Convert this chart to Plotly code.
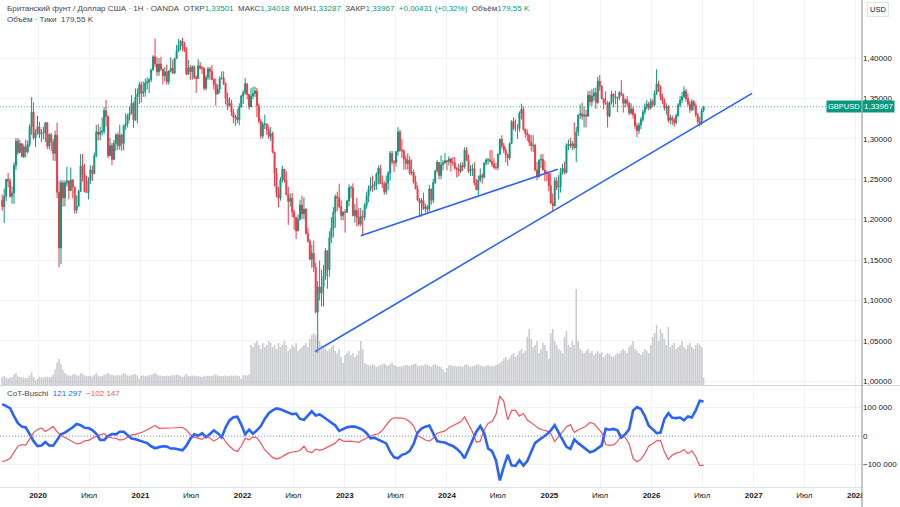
import pandas as pd
import plotly.graph_objects as go

# ---------------- weekly GBPUSD candles (from 2019-08-26, weekly) ----------------
first_open = 1.2240
closes = [
    # 2019
    1.2160,1.2290,1.2500,1.2475,1.2290,1.2330,1.2670,1.2970,1.2830,1.2940,1.2780,1.2900,1.2840,1.2930,1.3150,1.3330,1.3010,1.3080,1.3150,
    # 2020
    1.3060,1.3070,1.3075,1.3200,1.2910,1.3050,1.2960,1.2820,1.3045,1.2340,1.1650,1.2455,1.2270,1.2455,1.2480,1.2360,1.2490,1.2405,1.2120,1.2170,
    1.2350,1.2665,1.2560,1.2345,1.2335,1.2485,1.2615,1.2570,1.2790,1.3085,1.3055,1.3085,1.3095,1.3350,1.3275,1.2790,1.2915,1.2745,1.2945,1.3050,
    1.2915,1.3045,1.2945,1.3165,1.3190,1.3290,1.3315,1.3440,1.3230,1.3515,1.3555,1.3670,
    # 2021
    1.3565,1.3585,1.3690,1.3705,1.3735,1.3850,1.4015,1.3925,1.3830,1.3925,1.3865,1.3780,1.3830,1.3705,1.3840,1.3875,1.3815,1.3995,1.4085,1.4150,
    1.4210,1.4155,1.4110,1.3800,1.3880,1.3830,1.3890,1.3760,1.3745,1.3905,1.3875,1.3870,1.3625,1.3760,1.3865,1.3835,1.3735,1.3675,1.3555,1.3615,
    1.3745,1.3755,1.3680,1.3500,1.3410,1.3440,1.3330,1.3265,1.3270,1.3235,1.3395,1.3530,
    # 2022
    1.3570,1.3680,1.3550,1.3395,1.3530,1.3560,1.3590,1.3410,1.3220,1.3035,1.3180,1.3185,1.3115,1.3030,1.3065,1.2835,1.2570,1.2335,1.2265,1.2490,
    1.2625,1.2490,1.2310,1.2225,1.2265,1.2095,1.2030,1.1860,1.2005,1.2180,1.2070,1.2130,1.1830,1.1735,1.1510,1.1585,1.1410,1.0855,1.1165,1.1090,
    1.1170,1.1300,1.1615,1.1380,1.1775,1.1890,1.2090,1.2285,1.2265,1.2160,1.2050,1.2095,
    # 2023
    1.2090,1.2230,1.2395,1.2395,1.2050,1.2115,1.2030,1.1945,1.2040,1.2030,1.2175,1.2290,1.2380,1.2415,1.2410,1.2440,1.2565,1.2635,1.2445,1.2445,
    1.2345,1.2450,1.2575,1.2820,1.2715,1.2705,1.2840,1.3085,1.2855,1.2850,1.2750,1.2695,1.2735,1.2575,1.2585,1.2465,1.2380,1.2240,1.2205,1.2240,
    1.2135,1.2160,1.2130,1.2380,1.2240,1.2460,1.2605,1.2710,1.2545,1.2680,1.2705,1.2730,
    # 2024
    1.2720,1.2750,1.2705,1.2705,1.2635,1.2625,1.2600,1.2670,1.2650,1.2860,1.2735,1.2600,1.2620,1.2630,1.2450,1.2370,1.2490,1.2545,1.2525,1.2700,
    1.2740,1.2740,1.2720,1.2685,1.2645,1.2645,1.2810,1.2995,1.2915,1.2860,1.2805,1.2765,1.2940,1.3215,1.3125,1.3125,1.3125,1.3320,1.3365,1.3120,
    1.3070,1.3050,1.2960,1.2915,1.2920,1.2615,1.2530,1.2735,1.2745,1.2615,1.2570,1.2570,1.2420,
    # 2025 - 2026
    1.2205,1.2170,1.2480,1.2400,1.2405,1.2585,1.2635,1.2580,1.2920,1.2935,1.2915,1.2940,1.2890,1.3085,1.3295,1.3310,1.3280,1.3295,1.3280,1.3540,
    1.3460,1.3530,1.3570,1.3450,1.3715,1.3650,1.3495,1.3440,1.3440,1.3280,1.3450,1.3555,1.3525,1.3505,1.3510,1.3570,1.3550,
    1.3440,1.3480,1.3440,1.3320,1.3370,1.3300,1.3160,1.3100,1.3170,1.3240,1.3330,1.3390,1.3430,1.3380,1.3460,1.3420,1.3560,1.3680,1.3640,1.3520,
    1.3470,1.3380,1.3400,1.3230,1.3260,1.3230,1.3200,1.3290,1.3420,1.3480,1.3520,1.3590,1.3500,1.3430,1.3360,1.3460,1.3410,1.3300,1.3210,1.3200,
    1.33501,1.33967,
]
highs = [
    1.2310,1.2385,1.2500,1.2580,1.2510,1.2410,1.2710,1.3010,1.3010,1.2990,1.2950,1.2930,1.2990,1.2980,1.3180,1.3515,1.3450,1.3120,1.3285,
    1.3210,1.3120,1.3150,1.3205,1.3200,1.3070,1.3070,1.3000,1.3100,1.3200,1.2480,1.2490,1.2485,1.2485,1.2650,1.2480,1.2645,1.2500,1.2380,1.2300,
    1.2370,1.2810,1.2810,1.2690,1.2545,1.2525,1.2670,1.2670,1.2830,1.3170,1.3185,1.3145,1.3265,1.3395,1.3480,1.3290,1.3010,1.2950,1.2985,1.3065,
    1.3080,1.3175,1.3065,1.3175,1.3315,1.3310,1.3400,1.3540,1.3460,1.3625,1.3625,1.3705,
    1.3705,1.3710,1.3745,1.3760,1.3750,1.3870,1.4035,1.4240,1.4015,1.4000,1.4015,1.3865,1.3890,1.3920,1.3845,1.4010,1.3980,1.4005,1.4165,1.4235,
    1.4220,1.4250,1.4200,1.4135,1.3975,1.3915,1.3910,1.3910,1.3785,1.3985,1.3950,1.3900,1.3890,1.3790,1.3890,1.3890,1.3915,1.3750,1.3750,1.3675,
    1.3775,1.3835,1.3835,1.3700,1.3570,1.3515,1.3485,1.3370,1.3300,1.3370,1.3440,1.3545,
    1.3600,1.3750,1.3690,1.3545,1.3630,1.3645,1.3645,1.3630,1.3440,1.3245,1.3210,1.3300,1.3180,1.3165,1.3145,1.3090,1.2840,1.2640,1.2405,1.2525,
    1.2665,1.2600,1.2600,1.2405,1.2325,1.2330,1.2120,1.2000,1.2065,1.2245,1.2295,1.2275,1.2140,1.1900,1.1760,1.1690,1.1740,1.1465,1.1240,1.1495,
    1.1380,1.1440,1.1645,1.1600,1.1855,1.2030,1.2155,1.2310,1.2345,1.2445,1.2240,1.2100,
    1.2130,1.2245,1.2435,1.2420,1.2450,1.2195,1.2270,1.2145,1.2145,1.2115,1.2205,1.2345,1.2425,1.2525,1.2545,1.2475,1.2585,1.2670,1.2680,1.2545,
    1.2475,1.2545,1.2600,1.2850,1.2850,1.2735,1.2850,1.3145,1.3110,1.2995,1.2875,1.2790,1.2820,1.2785,1.2745,1.2620,1.2545,1.2425,1.2270,1.2265,
    1.2335,1.2200,1.2180,1.2430,1.2370,1.2505,1.2610,1.2735,1.2710,1.2795,1.2735,1.2825,
    1.2735,1.2785,1.2765,1.2775,1.2775,1.2650,1.2690,1.2710,1.2710,1.2895,1.2895,1.2805,1.2675,1.2685,1.2710,1.2500,1.2545,1.2635,1.2575,1.2710,
    1.2760,1.2760,1.2860,1.2860,1.2760,1.2705,1.2815,1.3000,1.3045,1.2950,1.2900,1.2820,1.2955,1.3230,1.3265,1.3240,1.3180,1.3340,1.3435,1.3400,
    1.3125,1.3115,1.3055,1.3045,1.3045,1.2940,1.2715,1.2750,1.2810,1.2810,1.2730,1.2605,1.2575,
    1.2575,1.2325,1.2525,1.2525,1.2550,1.2640,1.2690,1.2715,1.2945,1.2990,1.3015,1.2975,1.3205,1.3150,1.3300,1.3425,1.3445,1.3400,1.3360,1.3595,
    1.3595,1.3615,1.3630,1.3635,1.3770,1.3790,1.3665,1.3485,1.3590,1.3470,1.3460,1.3595,1.3540,1.3595,1.3520,1.3590,1.3725,
    1.3560,1.3500,1.3530,1.3460,1.3440,1.3400,1.3320,1.3200,1.3200,1.3270,1.3360,1.3440,1.3480,1.3460,1.3500,1.3490,1.3600,1.3860,1.3720,1.3660,
    1.3560,1.3500,1.3440,1.3420,1.3300,1.3290,1.3260,1.3310,1.3440,1.3530,1.3580,1.3650,1.3620,1.3560,1.3470,1.3490,1.3480,1.3440,1.3320,1.3270,
    1.3380,1.34018,
]
lows = [
    1.2110,1.1959,1.2230,1.2400,1.2270,1.2200,1.2195,1.2615,1.2800,1.2830,1.2770,1.2760,1.2770,1.2820,1.2900,1.3050,1.2990,1.2900,1.3050,
    1.3010,1.2960,1.2995,1.2960,1.2870,1.2870,1.2850,1.2730,1.2725,1.2265,1.1410,1.1450,1.2160,1.2165,1.2410,1.2250,1.2350,1.2265,1.2075,1.2075,
    1.2160,1.2340,1.2470,1.2340,1.2330,1.2250,1.2440,1.2480,1.2560,1.2770,1.2980,1.2980,1.3040,1.3060,1.3150,1.2760,1.2805,1.2675,1.2745,1.2850,
    1.2865,1.2865,1.2855,1.2855,1.3110,1.3140,1.3225,1.3300,1.3135,1.3225,1.3190,1.3430,
    1.3450,1.3520,1.3520,1.3610,1.3565,1.3700,1.3850,1.3885,1.3775,1.3780,1.3840,1.3670,1.3710,1.3670,1.3670,1.3820,1.3800,1.3800,1.3990,1.4080,
    1.4100,1.4085,1.4075,1.3785,1.3805,1.3730,1.3730,1.3740,1.3570,1.3745,1.3855,1.3800,1.3600,1.3600,1.3730,1.3730,1.3725,1.3610,1.3410,1.3545,
    1.3565,1.3735,1.3665,1.3425,1.3355,1.3400,1.3280,1.3195,1.3160,1.3190,1.3170,1.3385,
    1.3430,1.3545,1.3490,1.3360,1.3410,1.3490,1.3515,1.3270,1.3190,1.3000,1.3005,1.3120,1.3050,1.3000,1.2975,1.2820,1.2410,1.2275,1.2155,1.2235,
    1.2460,1.2460,1.2300,1.1935,1.2160,1.2030,1.1875,1.1760,1.1860,1.1990,1.2005,1.2005,1.1815,1.1715,1.1500,1.1405,1.1350,1.0840,1.0350,1.1000,
    1.0925,1.0925,1.1255,1.1145,1.1295,1.1710,1.1780,1.1900,1.2105,1.2140,1.1995,1.1990,
    1.1840,1.2085,1.2165,1.2265,1.2040,1.1960,1.1915,1.1920,1.1915,1.1805,1.1990,1.2135,1.2215,1.2350,1.2345,1.2365,1.2370,1.2435,1.2440,1.2390,
    1.2310,1.2310,1.2365,1.2480,1.2680,1.2590,1.2655,1.2790,1.2840,1.2765,1.2620,1.2615,1.2620,1.2550,1.2545,1.2445,1.2375,1.2230,1.2035,1.2035,
    1.2120,1.2090,1.2070,1.2100,1.2185,1.2205,1.2440,1.2580,1.2500,1.2500,1.2610,1.2685,
    1.2610,1.2670,1.2595,1.2665,1.2620,1.2520,1.2535,1.2575,1.2600,1.2630,1.2730,1.2575,1.2540,1.2540,1.2425,1.2365,1.2300,1.2465,1.2445,1.2510,
    1.2670,1.2680,1.2705,1.2655,1.2625,1.2615,1.2615,1.2795,1.2880,1.2825,1.2710,1.2665,1.2735,1.2935,1.3110,1.3090,1.3000,1.3090,1.3240,1.3100,
    1.3015,1.2975,1.2910,1.2845,1.2835,1.2595,1.2485,1.2520,1.2635,1.2610,1.2475,1.2475,1.2350,
    1.2195,1.2100,1.2230,1.2365,1.2250,1.2335,1.2555,1.2560,1.2575,1.2860,1.2885,1.2860,1.2875,1.2710,1.3035,1.3245,1.3235,1.3140,1.3140,1.3305,
    1.3410,1.3405,1.3470,1.3370,1.3430,1.3595,1.3490,1.3365,1.3420,1.3140,1.3265,1.3425,1.3390,1.3425,1.3330,1.3480,1.3530,
    1.3325,1.3390,1.3400,1.3290,1.3300,1.3250,1.3120,1.3020,1.3060,1.3120,1.3210,1.3300,1.3360,1.3350,1.3360,1.3390,1.3400,1.3540,1.3580,1.3480,
    1.3430,1.3350,1.3300,1.3200,1.3180,1.3170,1.3150,1.3180,1.3270,1.3390,1.3440,1.3500,1.3460,1.3400,1.3320,1.3340,1.3350,1.3270,1.3180,1.3150,
    1.3170,1.33287,
]
volumes_k = [
    200,230,180,170,190,200,260,300,220,200,180,190,170,180,240,320,200,120,150,
    210,190,180,200,210,190,200,260,380,560,650,520,380,300,250,240,230,260,280,240,
    230,300,280,240,230,220,230,210,250,300,240,220,230,260,270,300,260,250,240,230,
    250,240,260,300,280,240,230,250,260,280,240,160,
    230,240,220,230,240,250,270,300,260,240,230,230,220,240,220,230,250,240,260,250,
    230,200,240,280,230,220,230,240,220,230,210,200,230,220,230,220,230,240,260,240,
    230,220,230,240,220,230,240,230,240,230,220,160,
    240,250,240,260,1000,950,1050,1100,1000,900,1050,950,1000,1100,1050,950,1000,900,1050,950,
    1000,1100,1000,850,900,1000,950,1050,850,900,950,1000,1050,950,1150,1250,1300,1250,1350,1100,
    1000,950,900,850,900,950,1000,850,800,900,700,550,
    750,800,850,750,800,700,750,850,1100,900,550,520,500,480,520,500,450,480,500,520,
    540,500,480,520,560,500,480,450,470,460,480,500,490,470,500,520,540,480,470,500,
    480,520,500,480,460,500,520,480,470,450,400,320,
    420,480,500,470,480,460,470,480,450,500,520,480,460,470,480,500,520,490,470,460,
    480,500,470,480,460,500,520,550,600,650,700,620,680,750,800,700,750,850,900,800,
    850,1200,1400,1150,950,1000,1100,800,900,1050,1000,850,650,
    1300,1400,1100,1000,900,850,800,1200,1350,1000,950,1100,1000,2400,1100,900,850,800,850,900,
    800,850,750,800,850,780,820,700,750,800,780,720,700,750,800,780,850,
    900,850,800,950,1000,1100,900,850,800,750,820,900,850,800,1000,1200,1300,1500,1100,1400,
    1300,1150,1000,1450,950,1000,1050,900,950,1000,1100,950,900,1000,1050,950,900,1000,1050,1000,
    950,180,
]

# ---------------- CoT (thousands of contracts, every 2 weeks) ----------------
cot_blue_k = [
    112,105,98,70,45,33,30,7,-18,-35,
    -33,-21,-33,-34,-15,6,12,20,31,42,
    38,29,28,21,8,-14,-14,0,7,6,
    15,15,4,-9,-11,-15,-20,-25,-36,-43,
    -39,-36,-37,-44,-44,-46,-50,-34,-10,6,
    1,10,-4,7,20,10,-5,30,55,66,
    68,40,6,22,8,20,35,60,80,90,
    97,94,89,84,77,79,60,57,72,87,
    72,76,67,57,48,37,18,25,31,33,
    33,28,22,10,-8,-6,-12,-18,-26,-55,
    -75,-78,-66,-62,-52,-28,12,26,33,37,
    10,-18,-21,-23,-30,-35,-45,-58,-78,-48,
    -15,15,35,10,-44,-53,-85,-156,-108,-66,
    -103,-105,-85,-104,-88,-58,-24,-14,-5,6,
    20,38,12,-14,-38,-45,-12,-25,-35,-45,
    -57,-53,-42,-33,25,22,25,20,-5,6,
    24,90,102,95,70,36,24,10,12,60,
    80,64,63,65,55,69,65,90,124,121.297,
]
cot_red_k = [
    -90,-86,-78,-55,-36,-30,-32,-10,12,23,
    28,16,25,33,15,2,-5,-12,-19,-28,
    -26,-17,-15,-8,0,4,8,-2,-7,-8,
    -14,-12,-4,4,6,10,15,22,29,37,
    27,27,29,27,29,30,30,21,5,-4,
    -8,-12,2,-8,-18,-10,2,-20,-36,-48,
    -54,-35,-8,-13,-3,-6,-25,-49,-63,-75,
    -81,-76,-68,-60,-56,-55,-50,-36,-55,-58,
    -46,-50,-46,-38,-30,-25,-10,-18,-19,-18,
    -20,-22,-14,-6,-1,5,8,20,38,56,
    64,64,63,60,50,35,2,-6,-14,-18,
    -8,10,15,18,29,36,45,50,67,43,
    15,-22,-18,22,45,51,75,140,122,57,
    90,90,70,79,56,47,37,26,21,18,
    8,-19,-2,17,33,40,13,21,27,35,
    48,43,28,12,-30,-33,-31,-20,3,-5,
    -28,-79,-90,-82,-62,-35,-27,-17,-15,-55,
    -82,-67,-60,-56,-47,-62,-52,-72,-104,-102.147,
]

# ---------------- drawn trend lines ----------------
trend1_dates = ["2023-02-27", "2025-01-31"]
trend1_prices = [1.1800, 1.2622]
trend2_dates = ["2022-09-16", "2026-12-26"]
trend2_prices = [1.0365, 1.3562]

last_price = 1.33967
price_ticks = [1.00, 1.05, 1.10, 1.15, 1.20, 1.25, 1.30, 1.35, 1.40]
price_ticktext = ["1,00000", "1,05000", "1,10000", "1,15000", "1,20000", "1,25000", "1,30000", "1,35000", "1,40000"]
x_tickvals = ["2020-01-01", "2020-07-01", "2021-01-01", "2021-07-01", "2022-01-01", "2022-07-01",
              "2023-01-01", "2023-07-01", "2024-01-01", "2024-07-01", "2025-01-01", "2025-07-01",
              "2026-01-01", "2026-07-01", "2027-01-01", "2027-07-01", "2028-01-01"]
x_ticktext = ["<b>2020</b>", "Июл", "<b>2021</b>", "Июл", "<b>2022</b>", "Июл", "<b>2023</b>", "Июл",
              "<b>2024</b>", "Июл", "<b>2025</b>", "Июл", "<b>2026</b>", "Июл", "<b>2027</b>", "Июл", "<b>2028</b>"]

n = len(closes)
assert len(highs) == n and len(lows) == n and len(volumes_k) == n, (n, len(highs), len(lows), len(volumes_k))
assert len(cot_blue_k) == len(cot_red_k)

dates = pd.date_range("2019-08-26", periods=n, freq="7D")
cot_dates = pd.date_range("2019-08-26", periods=len(cot_blue_k), freq="14D")
opens = [first_open] + closes[:-1]

UP = "#089981"
DOWN = "#f23645"
FONT = "Liberation Sans, Arial, sans-serif"
TXT = "#131722"

fig = go.Figure()
fig.add_trace(go.Bar(x=dates, y=volumes_k, xaxis="x", yaxis="y3",
                     marker=dict(color="rgba(150,152,160,0.5)", line=dict(width=0)),
                     hoverinfo="skip"))
fig.add_trace(go.Candlestick(x=dates, open=opens, high=highs, low=lows, close=closes,
                             xaxis="x", yaxis="y",
                             increasing=dict(line=dict(color=UP, width=1), fillcolor=UP),
                             decreasing=dict(line=dict(color=DOWN, width=1), fillcolor=DOWN),
                             whiskerwidth=0))
fig.add_trace(go.Scatter(x=trend1_dates, y=trend1_prices, mode="lines", xaxis="x", yaxis="y",
                         line=dict(color="#2962ff", width=1.6)))
fig.add_trace(go.Scatter(x=trend2_dates, y=trend2_prices, mode="lines", xaxis="x", yaxis="y",
                         line=dict(color="#2962ff", width=1.6)))
fig.add_trace(go.Scatter(x=cot_dates, y=cot_red_k, mode="lines", xaxis="x", yaxis="y2",
                         line=dict(color="#f7525f", width=1.2)))
fig.add_trace(go.Scatter(x=cot_dates, y=cot_blue_k, mode="lines", xaxis="x", yaxis="y2",
                         line=dict(color="#2962ff", width=2.6)))

GRID = "#f0f3fa"
fig.update_layout(
    width=900, height=507, margin=dict(l=0, r=38, t=0, b=20),
    paper_bgcolor="white", plot_bgcolor="white", showlegend=False,
    font=dict(family=FONT, size=8, color=TXT),
    xaxis=dict(type="date", range=["2019-08-18", "2028-01-23"], domain=[0, 1], anchor="y2",
               tickvals=x_tickvals, ticktext=x_ticktext, showgrid=True, gridcolor=GRID,
               showline=True, linecolor="#e0e3eb", linewidth=1, ticks="",
               rangeslider=dict(visible=False), tickfont=dict(size=8, color=TXT)),
    yaxis=dict(domain=[0.2094, 1], range=[0.9953, 1.4718], side="right", anchor="x",
               tickvals=price_ticks, ticktext=price_ticktext, showgrid=True, gridcolor=GRID,
               zeroline=False, ticks="", tickfont=dict(size=8, color=TXT)),
    yaxis3=dict(domain=[0.2094, 1], range=[0, 9625], overlaying="y", anchor="x", visible=False),
    yaxis2=dict(domain=[0, 0.207], range=[-179, 175], side="right", anchor="x",
                tickvals=[-100, 0, 100], ticktext=["−100 000", "0", "100 000"],
                showgrid=True, gridcolor=GRID, zeroline=False, ticks="",
                tickfont=dict(size=8, color=TXT)),
)

shapes = [
    dict(type="line", xref="paper", yref="y", x0=0, x1=1, y0=last_price, y1=last_price,
         line=dict(color="rgba(8,153,129,0.75)", width=1, dash="1px,2px")),
    dict(type="line", xref="paper", yref="y2", x0=0, x1=1, y0=0, y1=0,
         line=dict(color="#9598a1", width=1, dash="1px,2px")),
    dict(type="rect", xref="paper", yref="paper", x0=1.0005, x1=1.05, y0=-0.05, y1=-0.001,
         fillcolor="white", line=dict(width=0), layer="above"),
    dict(type="line", xref="paper", yref="paper", x0=0, x1=1.05, y0=0.2084, y1=0.2084,
         line=dict(color="#d1d4dc", width=1)),
    dict(type="line", xref="paper", yref="paper", x0=1, x1=1, y0=-0.045, y1=1,
         line=dict(color="#8a8d96", width=1)),
]
fig.update_layout(shapes=shapes)

g = lambda s: f'<span style="color:{UP}">{s}</span>'
NB = "\u00a0"
line1 = (f"Британский фунт / Доллар США · 1Н · OANDA{NB}{NB}ОТКР{g('1,33501')}{NB}{NB}МАКС{g('1,34018')}"
         f"{NB}{NB}МИН{g('1,33287')}{NB}{NB}ЗАКР{g('1,33967')}{NB}{NB}{g('+0,00431 (+0,32%)')}"
         f"{NB}{NB}Объём{g('179,55 K')}")
annotations = [
    dict(text=line1, xref="paper", yref="paper", x=0.006, y=1 - 8 / 487, xanchor="left", yanchor="middle",
         showarrow=False, font=dict(size=8, color="#434651")),
    dict(text=f"Объём · Тики{NB}{NB}179,55{NB}K", xref="paper", yref="paper", x=0.006, y=1 - 20 / 487,
         xanchor="left", yanchor="middle", showarrow=False, font=dict(size=8, color="#434651")),
    dict(text=f'CoT-Buschi{NB}{NB}<span style="color:#2962ff">121 297</span>{NB}{NB}'
              f'<span style="color:#f7525f">−102 147</span>',
         xref="paper", yref="paper", x=0.006, y=(487 - 393) / 487, xanchor="left", yanchor="middle",
         showarrow=False, font=dict(size=8, color="#434651")),
    dict(text="GBPUSD", xref="paper", yref="y", x=1, y=last_price, xanchor="right", yanchor="middle",
         showarrow=False, bgcolor=UP, borderpad=1, font=dict(size=7.5, color="white")),
    dict(text="1,33967", xref="paper", yref="y", x=1, y=last_price, xanchor="left", yanchor="middle",
         showarrow=False, bgcolor=UP, borderpad=1, font=dict(size=8, color="white")),
    dict(text="USD", xref="paper", yref="paper", x=1 + 16 / 862, y=1 - 10 / 487, xanchor="center",
         yanchor="middle", showarrow=False, bordercolor="#e0e3eb", borderwidth=1, borderpad=2,
         font=dict(size=7.5, color=TXT)),
]
fig.update_layout(annotations=annotations)

fig.write_html("out.html")
